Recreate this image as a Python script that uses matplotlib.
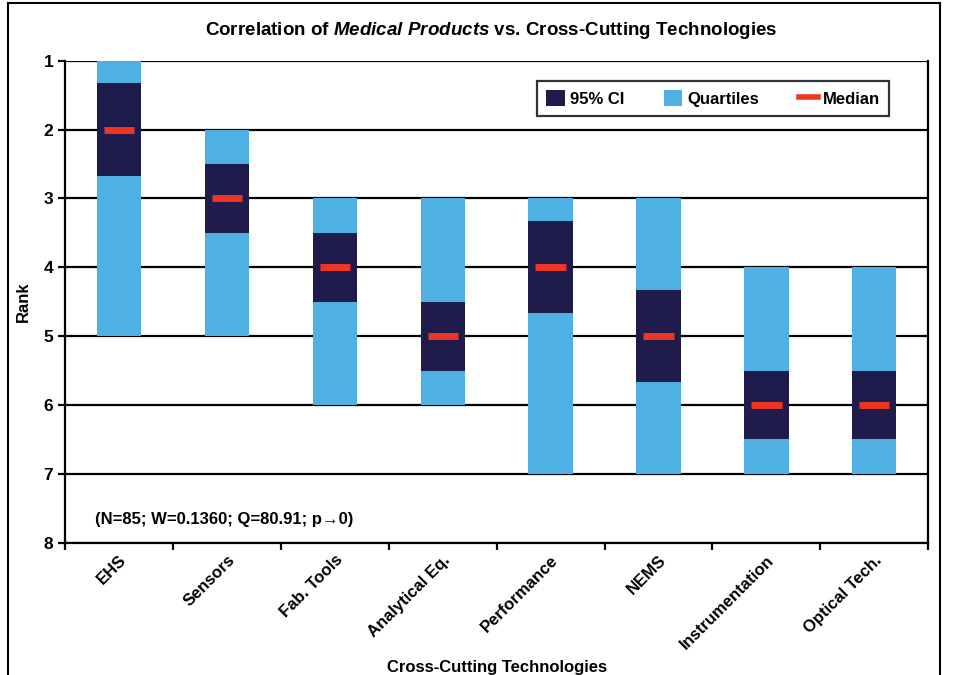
import matplotlib.pyplot as plt
from matplotlib.patches import Patch
from matplotlib.lines import Line2D

plt.rcParams['font.family'] = ['Liberation Sans', 'DejaVu Sans']
plt.rcParams['font.weight'] = 'bold'
plt.rcParams['axes.labelweight'] = 'bold'
plt.rcParams['mathtext.fontset'] = 'custom'
plt.rcParams['mathtext.it'] = 'Liberation Sans:italic:bold'
plt.rcParams['mathtext.rm'] = 'Liberation Sans:bold'

# data (ranks, 1 = best)
categories = ['EHS', 'Sensors', 'Fab. Tools', 'Analytical Eq.', 'Performance',
              'NEMS', 'Instrumentation', 'Optical Tech.']
q_low = [1, 2, 3, 3, 3, 3, 4, 4]
q_high = [5, 5, 6, 6, 7, 7, 7, 7]
ci_low = [1.33, 2.5, 3.5, 4.5, 3.33, 4.33, 5.5, 5.5]
ci_high = [2.67, 3.5, 4.5, 5.5, 4.67, 5.67, 6.5, 6.5]
median = [2, 3, 4, 5, 4, 5, 6, 6]
yticks = [1, 2, 3, 4, 5, 6, 7, 8]

c_ci = '#1f1b4b'
c_q = '#4fb0e3'
c_med = '#ee3524'

fig = plt.figure(figsize=(9.56, 6.75), dpi=100)
ax = fig.add_axes([0.068, 0.196, 0.903, 0.714])

x = list(range(len(categories)))
w = 0.41

for ych in yticks:
    ax.axhline(ych, color='black', lw=1.6, zorder=1)

ax.bar(x, [h - l for l, h in zip(q_low, q_high)], bottom=q_low, width=w, color=c_q, zorder=2)
ax.bar(x, [h - l for l, h in zip(ci_low, ci_high)], bottom=ci_low, width=w, color=c_ci, zorder=3)
ax.hlines(median, [i - 0.14 for i in x], [i + 0.14 for i in x], color=c_med, lw=5, zorder=4)

ax.set_xlim(-0.5, len(categories) - 0.5)
ax.set_ylim(8, 1)
ax.set_yticks(yticks)
edges = [i - 0.5 for i in range(len(categories) + 1)]
ax.set_xticks(edges)
ax.set_xticklabels([''] * len(edges))
ax.set_xticks(x, minor=True)
ax.set_xticklabels(categories, minor=True, rotation=45, ha='right', rotation_mode='anchor', fontsize=12)
ax.tick_params(axis='x', which='minor', length=0, pad=7)
ax.tick_params(axis='x', which='major', length=5, width=1.6, direction='out')
ax.tick_params(axis='y', length=5, width=1.6, labelsize=12.5)
for s in ['left', 'bottom', 'right']:
    ax.spines[s].set_linewidth(1.6)
ax.spines['top'].set_visible(False)

ax.set_ylabel('Rank', fontsize=12, labelpad=9)
ax.set_xlabel('Cross-Cutting Technologies', fontsize=12, labelpad=6)
fig.text(0.514, 0.955, 'Correlation of $\\it{Medical\\ Products}$ vs. Cross-Cutting Technologies',
         ha='center', va='center', fontsize=13.5)

ax.text(0.035, 0.048, '(N=85; W=0.1360; Q=80.91; p\u21920)', transform=ax.transAxes,
        fontsize=12, va='center')

handles = [Patch(facecolor=c_ci, label='95% CI'),
           Patch(facecolor=c_q, label='Quartiles'),
           Line2D([0], [0], color=c_med, lw=4, label='Median')]
leg = ax.legend(handles=handles, ncol=3, loc='upper right', bbox_to_anchor=(0.964, 0.975),
                fontsize=12, frameon=True, fancybox=False, edgecolor='black',
                handlelength=1.1, handleheight=1.1, handletextpad=0.3, columnspacing=2.4,
                borderpad=0.55)
leg.get_frame().set_linewidth(1.6)

# outer frame
fig.add_artist(Line2D([0.008, 0.008], [0, 0.995], color='black', lw=1.5, transform=fig.transFigure))
fig.add_artist(Line2D([0.008, 0.983], [0.995, 0.995], color='black', lw=1.5, transform=fig.transFigure))
fig.add_artist(Line2D([0.983, 0.983], [0, 0.995], color='black', lw=1.5, transform=fig.transFigure))

plt.savefig('out.png', dpi=100)
